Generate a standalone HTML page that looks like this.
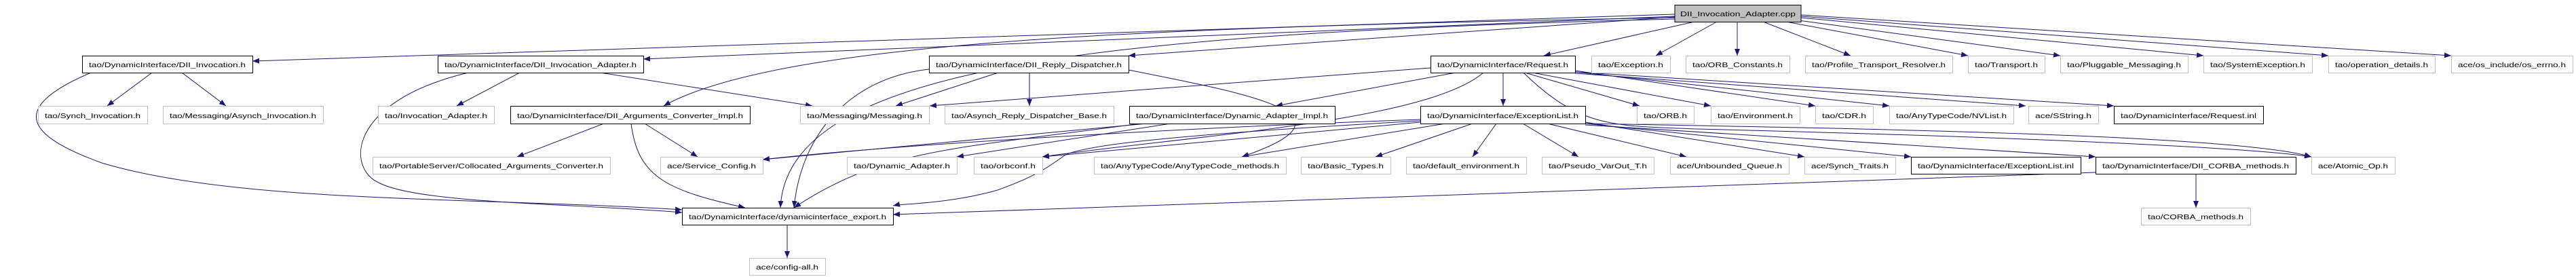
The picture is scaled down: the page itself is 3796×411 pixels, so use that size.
<!DOCTYPE html>
<html><head><meta charset="utf-8"><style>html,body{margin:0;padding:0;background:#fff}svg{display:block}</style></head><body>
<svg xmlns="http://www.w3.org/2000/svg" width="3796" height="411" viewBox="0 0 3796 411">
<defs><marker id="a" markerUnits="userSpaceOnUse" markerWidth="12" markerHeight="10" refX="10" refY="4" orient="auto"><path d="M0,0 L10,4 L0,8 Z" fill="#191970"/></marker></defs>
<g fill="none" stroke="#191970" stroke-width="1" marker-end="url(#a)">
<path d="M2468,21 L372,90"/><path d="M2468,24 L948,87"/>
<path d="M2468,26 C1700,40 1150,60 978,156"/>
<path d="M2468,28 C1600,50 1160,100 1150,306"/>
<path d="M2468,25 L1663,82"/><path d="M2497,32 L2275,82"/><path d="M2530,32 L2440,82"/>
<path d="M2560,32 L2560,82"/><path d="M2598,32 L2727,82"/><path d="M2632,32 L2900,82"/>
<path d="M2650,30 L3036,82"/><path d="M2654,26 L3247,82"/><path d="M2654,24 L3431,82"/><path d="M2654,22 L3612,82"/>
<path d="M224,107 L158,156"/><path d="M268,107 L333,156"/>
<path d="M134,107 C10,160 40,200 150,240 C350,300 700,290 1005,309"/>
<path d="M766,107 L673,156"/><path d="M884,107 L1197,156"/>
<path d="M690,107 C510,150 510,250 560,270 C620,300 850,300 1005,313"/>
<path d="M890,182 L762,231"/><path d="M950,182 L1028,231"/>
<path d="M930,182 C940,260 980,280 1098,306"/>
<path d="M1471,107 L1320,156"/><path d="M1517,107 L1517,156"/>
<path d="M1663,103 C1850,140 2010,170 1830,231"/>
<path d="M1369,102 C1250,115 1180,200 1170,306"/>
<path d="M2108,100 L1370,156"/><path d="M2145,107 L1880,156"/><path d="M2215,107 L2215,156"/>
<path d="M2247,107 L2416,156"/><path d="M2258,107 L2521,156"/><path d="M2321,104 L2675,156"/>
<path d="M2321,106 L2784,156"/><path d="M2321,108 L2985,156"/><path d="M2321,106 L3115,156"/>
<path d="M2186,107 C2100,180 1750,200 1536,231"/>
<path d="M2245,107 C2330,190 2380,185 2500,190 C2900,200 3300,215 3406,231"/>
<path d="M1725,182 L1410,231"/><path d="M1690,182 L1124,235"/>
<path d="M1680,182 C1400,220 1300,220 1170,306"/>
<path d="M2093,180 L1536,231"/><path d="M2130,182 L1830,231"/><path d="M2170,182 L2027,231"/>
<path d="M2205,182 L2170,231"/><path d="M2244,182 L2326,231"/><path d="M2280,182 L2485,231"/>
<path d="M2336,180 L2659,231"/><path d="M2336,182 L2816,231"/><path d="M2336,184 L3088,231"/>
<path d="M2336,182 C2800,190 3300,200 3406,231"/>
<path d="M2093,178 C1700,200 1600,215 1570,228 C1540,250 1520,262 1470,280 C1400,300 1330,300 1316,303"/>
<path d="M2093,176 C1700,190 1300,215 1124,235"/>
<path d="M3236,256 L3236,306"/><path d="M3088,254 L1316,316"/>
<path d="M1160,331 L1160,380"/>
</g>
<g font-family="Liberation Sans, sans-serif" font-size="10.5" fill="#000">
<rect x="2468" y="7.5" width="186" height="25" fill="#bfbfbf" stroke="#000"/><text x="2476" y="24" textLength="170" lengthAdjust="spacingAndGlyphs">DII_Invocation_Adapter.cpp</text>
</g>
<g id="nodes" font-family="Liberation Sans, sans-serif" font-size="10.5"></g>
<g font-family="Liberation Sans, sans-serif" font-size="10.5">
<!-- black-bordered -->
<g stroke="#000" fill="#fff">
<rect x="121.5" y="82.5" width="251" height="25"/><rect x="645.5" y="82.5" width="303" height="25"/>
<rect x="1369.5" y="82.5" width="294" height="25"/><rect x="2108.5" y="82.5" width="213" height="25"/>
<rect x="752.5" y="156.5" width="353" height="26"/><rect x="1664.5" y="156.5" width="303" height="26"/>
<rect x="2093.5" y="156.5" width="243" height="26"/><rect x="3115.5" y="156.5" width="220" height="26"/>
<rect x="2816.5" y="231.5" width="250" height="25"/><rect x="3088.5" y="231.5" width="295" height="25"/>
<rect x="1005.5" y="306.5" width="311" height="25"/>
</g>
<g stroke="#bfbfbf" fill="#fff">
<rect x="2345.5" y="82.5" width="116" height="25"/><rect x="2484.5" y="82.5" width="153" height="25"/>
<rect x="2660.5" y="82.5" width="217" height="25"/><rect x="2900.5" y="82.5" width="113" height="25"/>
<rect x="3036.5" y="82.5" width="188" height="25"/><rect x="3247.5" y="82.5" width="160" height="25"/>
<rect x="3431.5" y="82.5" width="157" height="25"/><rect x="3612.5" y="82.5" width="179" height="25"/>
<rect x="56.5" y="156.5" width="161" height="26"/><rect x="240.5" y="156.5" width="236" height="26"/>
<rect x="557.5" y="156.5" width="171" height="26"/><rect x="1179.5" y="156.5" width="190" height="26"/>
<rect x="1392.5" y="156.5" width="249" height="26"/><rect x="2412.5" y="156.5" width="84" height="26"/>
<rect x="2521.5" y="156.5" width="131" height="26"/><rect x="2675.5" y="156.5" width="85" height="26"/>
<rect x="2784.5" y="156.5" width="183" height="26"/><rect x="2989.5" y="156.5" width="103" height="26"/>
<rect x="549.5" y="231.5" width="350" height="25"/><rect x="973.5" y="231.5" width="151" height="25"/>
<rect x="1248.5" y="231.5" width="162" height="25"/><rect x="1435.5" y="231.5" width="101" height="25"/>
<rect x="1612.5" y="231.5" width="283" height="25"/><rect x="1917.5" y="231.5" width="132" height="25"/>
<rect x="2072.5" y="231.5" width="177" height="25"/><rect x="2272.5" y="231.5" width="165" height="25"/>
<rect x="2461.5" y="231.5" width="175" height="25"/><rect x="2659.5" y="231.5" width="134" height="25"/>
<rect x="3406.5" y="231.5" width="123" height="25"/>
<rect x="3155.5" y="306.5" width="161" height="25"/><rect x="1104.5" y="380.5" width="112" height="25"/>
</g>
<g fill="#000" lengthAdjust="spacingAndGlyphs">
<text x="131" y="99" textLength="231" lengthAdjust="spacingAndGlyphs">tao/DynamicInterface/DII_Invocation.h</text>
<text x="655" y="99" textLength="283" lengthAdjust="spacingAndGlyphs">tao/DynamicInterface/DII_Invocation_Adapter.h</text>
<text x="1379" y="99" textLength="274" lengthAdjust="spacingAndGlyphs">tao/DynamicInterface/DII_Reply_Dispatcher.h</text>
<text x="2118" y="99" textLength="193" lengthAdjust="spacingAndGlyphs">tao/DynamicInterface/Request.h</text>
<text x="2355" y="99" textLength="96" lengthAdjust="spacingAndGlyphs">tao/Exception.h</text>
<text x="2494" y="99" textLength="133" lengthAdjust="spacingAndGlyphs">tao/ORB_Constants.h</text>
<text x="2670" y="99" textLength="197" lengthAdjust="spacingAndGlyphs">tao/Profile_Transport_Resolver.h</text>
<text x="2910" y="99" textLength="93" lengthAdjust="spacingAndGlyphs">tao/Transport.h</text>
<text x="3046" y="99" textLength="168" lengthAdjust="spacingAndGlyphs">tao/Pluggable_Messaging.h</text>
<text x="3257" y="99" textLength="140" lengthAdjust="spacingAndGlyphs">tao/SystemException.h</text>
<text x="3441" y="99" textLength="137" lengthAdjust="spacingAndGlyphs">tao/operation_details.h</text>
<text x="3622" y="99" textLength="159" lengthAdjust="spacingAndGlyphs">ace/os_include/os_errno.h</text>
<text x="66" y="174" textLength="141" lengthAdjust="spacingAndGlyphs">tao/Synch_Invocation.h</text>
<text x="250" y="174" textLength="216" lengthAdjust="spacingAndGlyphs">tao/Messaging/Asynch_Invocation.h</text>
<text x="567" y="174" textLength="151" lengthAdjust="spacingAndGlyphs">tao/Invocation_Adapter.h</text>
<text x="762" y="174" textLength="333" lengthAdjust="spacingAndGlyphs">tao/DynamicInterface/DII_Arguments_Converter_Impl.h</text>
<text x="1189" y="174" textLength="170" lengthAdjust="spacingAndGlyphs">tao/Messaging/Messaging.h</text>
<text x="1402" y="174" textLength="229" lengthAdjust="spacingAndGlyphs">tao/Asynch_Reply_Dispatcher_Base.h</text>
<text x="1674" y="174" textLength="283" lengthAdjust="spacingAndGlyphs">tao/DynamicInterface/Dynamic_Adapter_Impl.h</text>
<text x="2103" y="174" textLength="223" lengthAdjust="spacingAndGlyphs">tao/DynamicInterface/ExceptionList.h</text>
<text x="2422" y="174" textLength="64" lengthAdjust="spacingAndGlyphs">tao/ORB.h</text>
<text x="2531" y="174" textLength="111" lengthAdjust="spacingAndGlyphs">tao/Environment.h</text>
<text x="2685" y="174" textLength="65" lengthAdjust="spacingAndGlyphs">tao/CDR.h</text>
<text x="2794" y="174" textLength="163" lengthAdjust="spacingAndGlyphs">tao/AnyTypeCode/NVList.h</text>
<text x="2999" y="174" textLength="83" lengthAdjust="spacingAndGlyphs">ace/SString.h</text>
<text x="3125" y="174" textLength="200" lengthAdjust="spacingAndGlyphs">tao/DynamicInterface/Request.inl</text>
<text x="559" y="248" textLength="330" lengthAdjust="spacingAndGlyphs">tao/PortableServer/Collocated_Arguments_Converter.h</text>
<text x="983" y="248" textLength="131" lengthAdjust="spacingAndGlyphs">ace/Service_Config.h</text>
<text x="1258" y="248" textLength="142" lengthAdjust="spacingAndGlyphs">tao/Dynamic_Adapter.h</text>
<text x="1445" y="248" textLength="81" lengthAdjust="spacingAndGlyphs">tao/orbconf.h</text>
<text x="1622" y="248" textLength="263" lengthAdjust="spacingAndGlyphs">tao/AnyTypeCode/AnyTypeCode_methods.h</text>
<text x="1927" y="248" textLength="112" lengthAdjust="spacingAndGlyphs">tao/Basic_Types.h</text>
<text x="2082" y="248" textLength="157" lengthAdjust="spacingAndGlyphs">tao/default_environment.h</text>
<text x="2282" y="248" textLength="145" lengthAdjust="spacingAndGlyphs">tao/Pseudo_VarOut_T.h</text>
<text x="2471" y="248" textLength="155" lengthAdjust="spacingAndGlyphs">ace/Unbounded_Queue.h</text>
<text x="2669" y="248" textLength="114" lengthAdjust="spacingAndGlyphs">ace/Synch_Traits.h</text>
<text x="2826" y="248" textLength="230" lengthAdjust="spacingAndGlyphs">tao/DynamicInterface/ExceptionList.inl</text>
<text x="3098" y="248" textLength="275" lengthAdjust="spacingAndGlyphs">tao/DynamicInterface/DII_CORBA_methods.h</text>
<text x="3416" y="248" textLength="103" lengthAdjust="spacingAndGlyphs">ace/Atomic_Op.h</text>
<text x="1015" y="323" textLength="291" lengthAdjust="spacingAndGlyphs">tao/DynamicInterface/dynamicinterface_export.h</text>
<text x="3165" y="323" textLength="141" lengthAdjust="spacingAndGlyphs">tao/CORBA_methods.h</text>
<text x="1114" y="397" textLength="92" lengthAdjust="spacingAndGlyphs">ace/config-all.h</text>
</g></g>
</svg>
</body></html>
